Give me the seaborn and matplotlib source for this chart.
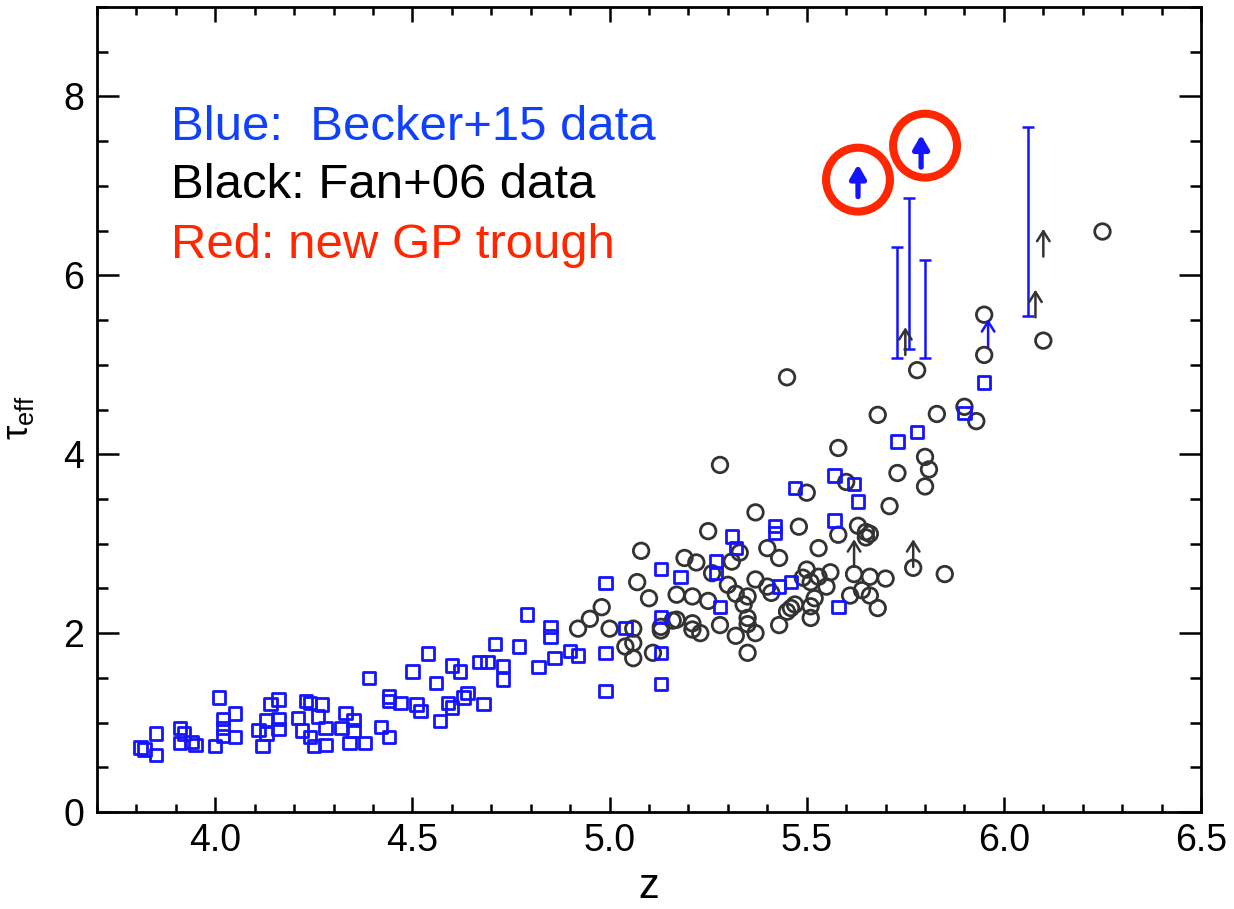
import numpy as np
import pandas as pd
import matplotlib
matplotlib.use("Agg")
import matplotlib.pyplot as plt
import seaborn as sns
from matplotlib.ticker import MultipleLocator

# ---------------- data ----------------
becker_z = [3.81, 3.82, 3.85, 3.85, 3.91, 3.92, 3.91, 3.94, 3.95, 4.00,
            4.01, 4.02, 4.02, 4.02, 4.05, 4.05, 4.11, 4.13, 4.13, 4.12,
            4.14, 4.16, 4.16, 4.16, 4.21, 4.22, 4.23, 4.24, 4.27, 4.26,
            4.28, 4.24, 4.25, 4.28, 4.33, 4.35, 4.32, 4.35, 4.34, 4.38,
            4.42, 4.44, 4.39, 4.44, 4.44, 4.47, 4.51, 4.52, 4.50, 4.56,
            4.57, 4.59, 4.60, 4.63, 4.64, 4.68, 4.60, 4.62, 4.67, 4.69,
            4.54, 4.71, 4.73, 4.73, 4.77, 4.79, 4.82, 4.85, 4.85, 4.86,
            4.90, 4.92, 4.99, 4.99, 4.99, 5.04, 5.13, 5.18, 5.13, 5.13,
            5.13, 5.27, 5.27, 5.31, 5.32, 5.28, 5.73, 5.78, 5.57, 5.62,
            5.63, 5.47, 5.57, 5.42, 5.42, 5.43, 5.46, 5.58, 5.90, 5.95]
becker_tau = [0.72, 0.70, 0.88, 0.64, 0.94, 0.88, 0.77, 0.78, 0.75, 0.74,
              1.28, 1.04, 0.94, 0.85, 1.10, 0.84, 0.92, 1.03, 0.88, 0.74,
              1.21, 1.26, 1.04, 0.93, 1.05, 0.91, 1.24, 1.22, 1.20, 1.07,
              0.94, 0.84, 0.74, 0.75, 1.11, 1.03, 0.94, 0.91, 0.77, 0.77,
              0.95, 0.84, 1.50, 1.29, 1.24, 1.22, 1.20, 1.13, 1.57, 1.44,
              1.02, 1.22, 1.17, 1.28, 1.33, 1.21, 1.64, 1.57, 1.68, 1.68,
              1.77, 1.88, 1.63, 1.48, 1.85, 2.21, 1.62, 2.07, 1.96, 1.72,
              1.80, 1.75, 2.56, 1.78, 1.35, 2.06, 2.72, 2.63, 2.18, 1.78,
              1.43, 2.80, 2.67, 3.08, 2.95, 2.29, 4.14, 4.25, 3.76, 3.67,
              3.47, 3.62, 3.26, 3.20, 3.12, 2.52, 2.57, 2.29, 4.46, 4.80]

fan_z = [5.25, 5.08, 5.19, 5.22, 5.07, 5.10, 5.17, 5.21, 5.25, 5.26,
         5.31, 5.30, 5.32, 5.34, 5.35, 4.98, 4.95, 4.92, 5.00, 5.06,
         5.13, 5.13, 5.16, 5.17, 5.21, 5.21, 5.23, 5.28, 5.32, 5.06,
         5.04, 5.06, 5.11, 5.35, 5.58, 5.28, 5.80, 5.81, 5.73, 5.80,
         5.60, 5.50, 5.71, 5.37, 5.48, 5.63, 5.65, 5.66, 5.65, 5.58,
         5.33, 5.40, 5.43, 5.53, 5.35, 5.37, 5.40, 5.41, 5.50, 5.49,
         5.51, 5.53, 5.56, 5.55, 5.52, 5.51, 5.46, 5.45, 5.47, 5.51,
         5.43, 5.62, 5.66, 5.70, 5.61, 5.64, 5.66, 5.68, 5.77, 5.85,
         5.35, 5.37, 5.78, 5.45, 5.68, 5.83, 5.90, 5.93, 6.25, 5.95,
         5.95, 6.10]
fan_tau = [3.14, 2.92, 2.84, 2.79, 2.57, 2.39, 2.43, 2.41, 2.36, 2.67,
           2.80, 2.54, 2.44, 2.32, 2.17, 2.29, 2.16, 2.05, 2.05, 2.05,
           2.07, 2.03, 2.14, 2.15, 2.11, 2.04, 2.00, 2.09, 1.97, 1.89,
           1.85, 1.72, 1.78, 1.78, 4.07, 3.88, 3.97, 3.83, 3.79, 3.64,
           3.69, 3.57, 3.42, 3.35, 3.19, 3.20, 3.13, 3.11, 3.07, 3.10,
           2.90, 2.95, 2.84, 2.95, 2.41, 2.60, 2.52, 2.45, 2.71, 2.62,
           2.57, 2.63, 2.68, 2.52, 2.39, 2.30, 2.28, 2.24, 2.32, 2.17,
           2.09, 2.66, 2.63, 2.61, 2.42, 2.48, 2.42, 2.28, 2.73, 2.66,
           2.10, 2.00, 4.94, 4.86, 4.44, 4.45, 4.53, 4.37, 6.49, 5.56,
           5.11, 5.27]

# lower limits (arrows)
fan_lim_z = [5.62, 5.77, 5.75, 6.10, 6.08]
fan_lim_tau = [2.74, 2.74, 5.11, 6.21, 5.53]
becker_lim_z = [5.96]
becker_lim_tau = [5.20]

# Becker+15 ranges
range_z = [5.73, 5.76, 5.80, 6.06]
range_lo = [5.08, 5.18, 5.08, 5.54]
range_hi = [6.32, 6.87, 6.17, 7.66]

# new GP trough lower limits and highlight circles
gp_z = [5.63, 5.79]
gp_tau = [6.88, 7.21]
ring_z = [5.63, 5.80]
ring_tau = [7.07, 7.45]

x_ticks = [4.0, 4.5, 5.0, 5.5, 6.0, 6.5]
x_labels = ["4.0", "4.5", "5.0", "5.5", "6.0", "6.5"]
y_ticks = [0, 2, 4, 6, 8]
y_labels = ["0", "2", "4", "6", "8"]

# ---------------- style ----------------
sns.set_theme(style="ticks")
plt.rcParams["font.family"] = ["Liberation Sans", "DejaVu Sans"]
plt.rcParams["mathtext.fontset"] = "custom"
plt.rcParams["mathtext.rm"] = "Liberation Sans"
plt.rcParams["mathtext.it"] = "Liberation Sans:italic"

BLUE = "#1414ff"
BLUE_TXT = "#1040ff"
GREY = "#333333"
RED = "#ff2600"

fig = plt.figure(figsize=(12.34, 9.09), dpi=100)
ax = fig.add_axes([0.0786, 0.1067, 0.8947, 0.8856])
ax.set_facecolor("white")

becker = pd.DataFrame({"z": becker_z, "tau": becker_tau})
fan = pd.DataFrame({"z": fan_z, "tau": fan_tau})

sns.scatterplot(data=fan, x="z", y="tau", marker="o", s=125, ax=ax,
                linewidth=2.0, zorder=3)
ax.collections[-1].set_facecolor("none")
ax.collections[-1].set_edgecolor(GREY)

sns.scatterplot(data=becker, x="z", y="tau", marker="s", s=80, ax=ax,
                linewidth=2.0, zorder=4)
ax.collections[-1].set_facecolor("none")
ax.collections[-1].set_edgecolor(BLUE)

# Becker ranges
mid = [(a + b) / 2 for a, b in zip(range_lo, range_hi)]
half = [(b - a) / 2 for a, b in zip(range_lo, range_hi)]
ax.errorbar(range_z, mid, yerr=half, fmt="none", ecolor=BLUE,
            elinewidth=1.8, capsize=4.5, capthick=1.8, zorder=4)

# thin arrows (lower limits)
thin_len = 0.31
for zz, tt in zip(fan_lim_z, fan_lim_tau):
    ax.annotate("", xy=(zz, tt + thin_len), xytext=(zz, tt),
                arrowprops=dict(arrowstyle="->,head_length=0.4,head_width=0.25",
                                lw=1.8, color=GREY, shrinkA=0, shrinkB=0,
                                mutation_scale=18), zorder=5)
for zz, tt in zip(becker_lim_z, becker_lim_tau):
    ax.annotate("", xy=(zz, tt + thin_len), xytext=(zz, tt),
                arrowprops=dict(arrowstyle="->,head_length=0.4,head_width=0.25",
                                lw=1.8, color=BLUE, shrinkA=0, shrinkB=0,
                                mutation_scale=18), zorder=5)

# thick arrows (new GP trough)
thick_len = 0.36
for zz, tt in zip(gp_z, gp_tau):
    ax.annotate("", xy=(zz, tt + thick_len), xytext=(zz, tt),
                arrowprops=dict(arrowstyle="-|>,head_length=0.45,head_width=0.26",
                                lw=3.8, color=BLUE, shrinkA=0, shrinkB=0,
                                mutation_scale=18), zorder=6)

ax.scatter(ring_z, ring_tau, s=46 ** 2, facecolors="none", edgecolors=RED,
           linewidths=5.8, zorder=6)

# axes
ax.set_xlim(3.7, 6.5)
ax.set_ylim(0, 9)
ax.set_xticks(x_ticks)
ax.set_xticklabels(x_labels)
ax.set_yticks(y_ticks)
ax.set_yticklabels(y_labels)
ax.xaxis.set_minor_locator(MultipleLocator(0.1))
ax.yaxis.set_minor_locator(MultipleLocator(0.5))
for sp in ax.spines.values():
    sp.set_visible(True)
    sp.set_linewidth(2.0)
    sp.set_color("black")
ax.tick_params(axis="both", which="both", direction="in", top=True, right=True,
               color="black", width=1.8, labelsize=27, labelcolor="black")
ax.tick_params(axis="x", which="major", length=10.8, pad=8)
ax.tick_params(axis="x", which="minor", length=5.8)
ax.tick_params(axis="y", which="major", length=15.8, pad=9)
ax.tick_params(axis="y", which="minor", length=8)
ax.grid(False)

ax.set_xlabel("z", fontsize=30, color="black")
ax.xaxis.set_label_coords(0.5, -0.068)
ax.set_ylabel(r"$\mathrm{\tau}_{\mathrm{eff}}$", fontsize=26, color="black")
ax.yaxis.set_label_coords(-0.055, 0.49)

ax.text(0.0668, 0.8348, "Blue:  Becker+15 data", transform=ax.transAxes,
        fontsize=35.4, color=BLUE_TXT, va="baseline", ha="left")
ax.text(0.0668, 0.7627, "Black: Fan+06 data", transform=ax.transAxes,
        fontsize=35.4, color="black", va="baseline", ha="left")
ax.text(0.0668, 0.6882, "Red: new GP trough", transform=ax.transAxes,
        fontsize=35.4, color=RED, va="baseline", ha="left")

fig.savefig("out.png", dpi=100, facecolor="white")
